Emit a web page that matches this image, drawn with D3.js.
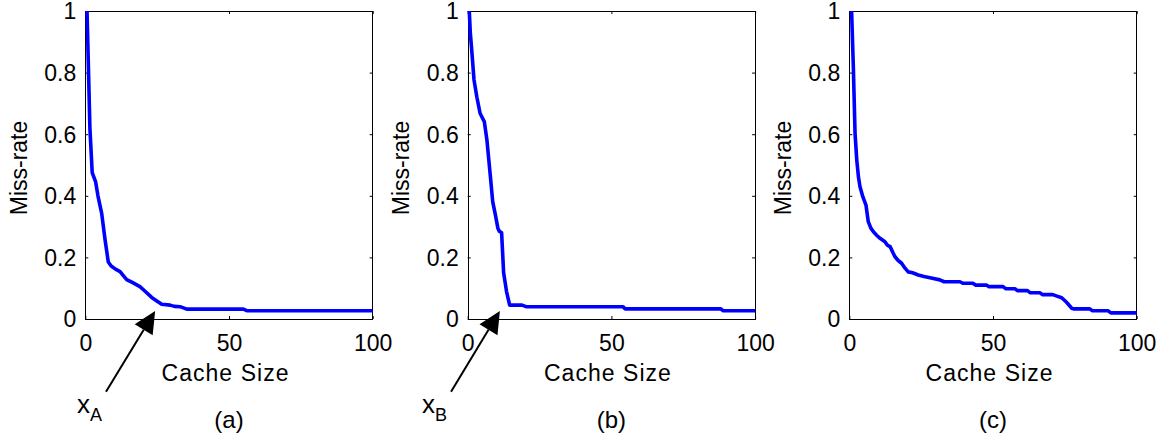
<!DOCTYPE html>
<html><head><meta charset="utf-8">
<script src="https://cdn.jsdelivr.net/npm/d3@7"></script>
<style>
body{margin:0;background:#fff}
svg{display:block}
text{font-family:"Liberation Sans",Arial,Helvetica,sans-serif;fill:#000}
</style>
</head><body>
<svg id="chart" width="1161" height="437"></svg>
<script>
// ---------- data ----------
const xTicks = [0, 50, 100];
const yTicks = [0, 0.2, 0.4, 0.6, 0.8, 1];
const panelLabels = ["(a)", "(b)", "(c)"];
const xLabel = "Cache Size";
const yLabel = "Miss-rate";

const sizeA = [0.6, 1.0, 1.6, 2.4, 3.6, 4.4, 5.7, 6.9, 8.0, 9.0, 10.5, 12.1, 13.3, 14.4, 16.5, 19.0, 20.8, 23.1, 25.0, 26.6, 29.5, 31.0, 33.0, 35.3, 55.0, 56.2, 100];
const missA = [1.0, 0.85, 0.62, 0.475, 0.445, 0.40, 0.343, 0.256, 0.185, 0.172, 0.162, 0.154, 0.14, 0.128, 0.118, 0.105, 0.09, 0.07, 0.058, 0.048, 0.045, 0.041, 0.040, 0.032, 0.032, 0.027, 0.027];

const sizeB = [0.55, 0.9, 1.4, 2.2, 3.2, 4.3, 5.0, 5.8, 6.7, 7.9, 8.7, 9.6, 10.5, 11.0, 11.8, 12.5, 13.5, 14.6, 18.9, 20.3, 54.0, 54.8, 88.0, 88.9, 100];
const missB = [1.0, 0.93, 0.873, 0.776, 0.72, 0.668, 0.655, 0.64, 0.58, 0.462, 0.381, 0.34, 0.295, 0.285, 0.28, 0.15, 0.09, 0.045, 0.045, 0.040, 0.040, 0.033, 0.033, 0.027, 0.027];

const sizeC = [0.8, 1.4, 2.0, 2.6, 3.2, 3.7, 4.7, 5.8, 6.6, 7.5, 8.4, 9.5, 10.7, 12.4, 13.2, 14.2, 15.2, 15.9, 17.0, 18.2, 19.4, 20.5, 22.0, 24.0, 26.0, 28.5, 31.5, 33.0, 38.5, 39.5, 43.0, 44.0, 47.8, 48.5, 53.5, 54.5, 57.7, 58.5, 62.0, 63.0, 66.3, 67.3, 70.8, 72.0, 73.9, 75.5, 77.4, 78.0, 83.7, 84.5, 90.0, 91.0, 100];
const missC = [1.0, 0.82, 0.603, 0.516, 0.46, 0.43, 0.397, 0.37, 0.316, 0.295, 0.283, 0.272, 0.262, 0.251, 0.24, 0.235, 0.215, 0.202, 0.19, 0.181, 0.165, 0.153, 0.15, 0.143, 0.138, 0.133, 0.127, 0.121, 0.121, 0.116, 0.116, 0.110, 0.110, 0.105, 0.105, 0.098, 0.098, 0.092, 0.092, 0.085, 0.085, 0.079, 0.079, 0.075, 0.069, 0.055, 0.035, 0.033, 0.033, 0.027, 0.027, 0.02, 0.02];

const series = [
  {x: sizeA, y: missA},
  {x: sizeB, y: missB},
  {x: sizeC, y: missC}
];

// annotations (data coordinates of their panel)
const annotations = [
  {panel: 0, name: "x", sub: "A", tipX: 24.3, tipY: 0.026, tailX: 7.2, tailY: -0.236},
  {panel: 1, name: "x", sub: "B", tipX: 11.2, tipY: 0.026, tailX: -5.8, tailY: -0.236}
];

// ---------- layout ----------
const plotLefts = [85.3, 467.7, 849.3];
const plotW = 287.4, plotTop = 11, plotBottom = 319;
const fontSize = 23;

const svg = d3.select("#chart");
const lineGen = d3.line().x(d => d[0]).y(d => d[1]);

series.forEach((s, i) => {
  const L = plotLefts[i];
  const x = d3.scaleLinear().domain([0, 100]).range([L, L + plotW]);
  const y = d3.scaleLinear().domain([0, 1]).range([plotBottom, plotTop]);
  const g = svg.append("g");

  // box
  g.append("rect")
    .attr("x", Math.round(L) + 0.5).attr("y", plotTop + 0.5)
    .attr("width", Math.round(plotW)).attr("height", plotBottom - plotTop)
    .attr("fill", "none").attr("stroke", "#000").attr("stroke-width", 1);

  const styleAxis = (ax, showText) => {
    ax.select(".domain").remove();
    ax.selectAll(".tick line").attr("stroke", "#000").attr("stroke-width", 1);
    ax.selectAll("text")
      .attr("font-size", fontSize)
      .attr("font-family", '"Liberation Sans",Arial,sans-serif')
      .attr("fill", "#000");
    if (!showText) ax.selectAll("text").remove();
  };

  const fmt = d3.format("~g");
  const axB = g.append("g").attr("transform", `translate(0,${plotBottom})`)
    .call(d3.axisBottom(x).tickValues(xTicks).tickSizeInner(-3).tickSizeOuter(0).tickPadding(16).tickFormat(fmt));
  styleAxis(axB, true);
  const axT = g.append("g").attr("transform", `translate(0,${plotTop})`)
    .call(d3.axisTop(x).tickValues(xTicks).tickSizeInner(-3).tickSizeOuter(0));
  styleAxis(axT, false);
  const axL = g.append("g").attr("transform", `translate(${L},0)`)
    .call(d3.axisLeft(y).tickValues(yTicks).tickSizeInner(-3).tickSizeOuter(0).tickPadding(9).tickFormat(fmt));
  styleAxis(axL, true);
  axL.selectAll("text").attr("dy", "0.34em");
  const axR = g.append("g").attr("transform", `translate(${L + plotW},0)`)
    .call(d3.axisRight(y).tickValues(yTicks).tickSizeInner(-3).tickSizeOuter(0));
  styleAxis(axR, false);

  // data line
  const pts = s.x.map((v, k) => [x(v), y(s.y[k])]);
  g.append("path").attr("d", lineGen(pts))
    .attr("fill", "none").attr("stroke", "#0000ff")
    .attr("stroke-width", 3.6).attr("stroke-linejoin", "round");

  // axis labels
  g.append("text")
    .attr("x", L + plotW / 2 - 4).attr("y", 381)
    .attr("text-anchor", "middle").attr("font-size", fontSize)
    .attr("textLength", 127).attr("lengthAdjust", "spacing")
    .text(xLabel);
  g.append("text")
    .attr("transform", `translate(${L - 58.3},${(plotTop + plotBottom) / 2 + 3}) rotate(-90)`)
    .attr("text-anchor", "middle").attr("font-size", fontSize)
    .text(yLabel);

  // panel label
  g.append("text")
    .attr("x", L + plotW / 2).attr("y", 428)
    .attr("text-anchor", "middle").attr("font-size", 24)
    .text(panelLabels[i]);

  // annotations
  annotations.filter(a => a.panel === i).forEach(a => {
    const tip = [x(a.tipX), y(a.tipY)];
    const tail = [x(a.tailX), y(a.tailY)];
    const dx = tip[0] - tail[0], dy = tip[1] - tail[1];
    const len = Math.hypot(dx, dy);
    const ux = dx / len, uy = dy / len;
    const headLen = 22, headHalf = 10.5;
    const base = [tip[0] - ux * headLen, tip[1] - uy * headLen];
    g.append("line")
      .attr("x1", tail[0]).attr("y1", tail[1])
      .attr("x2", base[0]).attr("y2", base[1])
      .attr("stroke", "#000").attr("stroke-width", 2);
    g.append("polygon")
      .attr("points", [
        tip,
        [base[0] - uy * headHalf, base[1] + ux * headHalf],
        [base[0] + uy * headHalf, base[1] - ux * headHalf]
      ].map(p => p.join(",")).join(" "))
      .attr("fill", "#000");
    const t = g.append("text")
      .attr("x", tail[0] - 29).attr("y", 413)
      .attr("font-size", 26);
    t.append("tspan").text(a.name);
    t.append("tspan").attr("dy", 7.5).attr("font-size", 18).text(a.sub);
  });
});
</script>
</body></html>
